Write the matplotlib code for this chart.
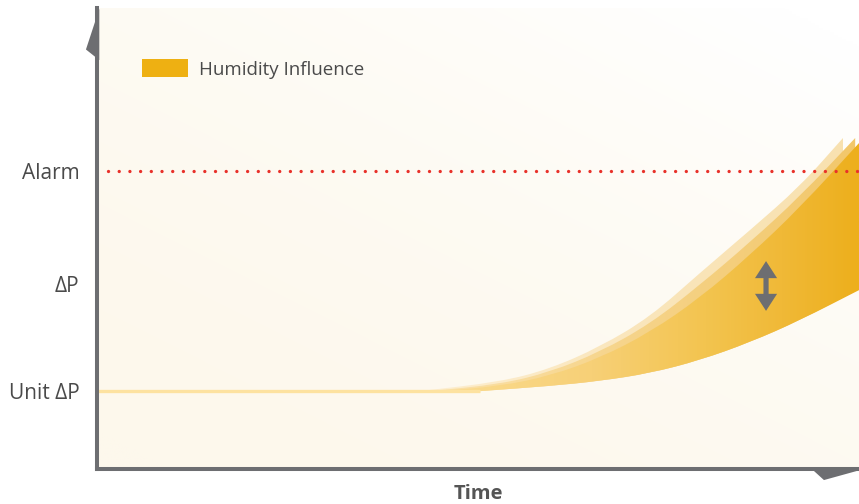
import numpy as np
import matplotlib
matplotlib.use('Agg')
from matplotlib import pyplot as plt
from matplotlib.patches import Polygon, Patch, PathPatch
from matplotlib.path import Path
from matplotlib.colors import to_rgb

plt.rcParams['font.family'] = ['Open Sans', 'DejaVu Sans']

# levels on the pressure axis (arbitrary units, 0-100)
unit_dp = 16.9
dp_level = 40.1
alarm = 64.6
tick_labels = ['Unit ΔP', 'ΔP', 'Alarm']

# band edges (time 0-100, pressure 0-100)
lower_x = [0, 50.3, 59.4, 66.0, 72.6, 79.1, 85.7, 92.3, 100]
lower_y = [16.9, 16.9, 18.0, 19.1, 20.8, 23.6, 27.5, 32.3, 38.8]

dark_x = [45.0, 52.9, 59.4, 66.0, 72.6, 79.1, 85.7, 92.3, 100]
dark_y = [16.9, 18.0, 20.2, 24.1, 29.7, 37.1, 46.4, 56.8, 70.7]

mid_x = [43.7, 52.9, 59.4, 66.0, 72.6, 79.1, 85.7, 92.3, 99.5]
mid_y = [16.9, 18.4, 21.0, 25.4, 31.5, 39.9, 49.2, 59.2, 71.8]

light_x = [42.4, 52.9, 59.4, 66.0, 72.6, 79.1, 85.7, 92.3, 97.9]
light_y = [16.9, 18.9, 21.7, 26.5, 33.0, 42.5, 51.8, 61.4, 71.8]

# double arrow showing the humidity spread
arrow_x = 87.8
arrow_y = [34.3, 45.1]

gray = '#6D6E71'
text_col = '#4A4A4A'

fig = plt.figure(figsize=(8.59, 5.04), dpi=100)
ax = fig.add_axes([97 / 859, 35 / 504, 762 / 859, 461 / 504])
ax.set_xlim(0, 100)
ax.set_ylim(0, 100)


def ramp(stops, n=400):
    pos = np.array([s[0] for s in stops])
    cols = np.array([to_rgb(s[1]) for s in stops])
    t = np.linspace(0, 1, n)
    return np.stack([np.interp(t, pos, cols[:, k]) for k in range(3)], axis=-1)


def smooth_edge(xs, ys, first):
    # quadratic bezier through the midpoints, read points act as control points
    p = list(zip(xs, ys))
    verts = [p[0]]
    codes = [Path.MOVETO if first else Path.LINETO]
    verts.append(((p[0][0] + p[1][0]) / 2, (p[0][1] + p[1][1]) / 2))
    codes.append(Path.LINETO)
    for i in range(1, len(p) - 1):
        mid = ((p[i][0] + p[i + 1][0]) / 2, (p[i][1] + p[i + 1][1]) / 2)
        verts += [p[i], mid]
        codes += [Path.CURVE3, Path.CURVE3]
    verts.append(p[-1])
    codes.append(Path.LINETO)
    return verts, codes


# background: cream bottom-left fading to white top-right
gx, gy = np.meshgrid(np.linspace(0, 1, 200), np.linspace(0, 1, 200))
w = np.clip(0.5 * gx + 0.6 * gy - 0.05, 0, 1) ** 1.6
c0 = np.array(to_rgb('#FDF8EC'))
c1 = np.array(to_rgb('#FFFFFF'))
bg = c0 * (1 - w[..., None]) + c1 * w[..., None]
ax.imshow(bg, extent=[0, 100, 0, 100], origin='lower', aspect='auto',
          interpolation='bilinear', zorder=0)


def band(ux, uy, bx, by, stops, z):
    v1, c1_ = smooth_edge(ux, uy, True)
    v2, c2_ = smooth_edge(list(bx)[::-1], list(by)[::-1], False)
    verts = v1 + v2 + [v1[0]]
    codes = c1_ + c2_ + [Path.CLOSEPOLY]
    patch = PathPatch(Path(verts, codes), facecolor='none', edgecolor='none', zorder=z)
    ax.add_patch(patch)
    img = ax.imshow(ramp(stops)[None, :, :], extent=[0, 100, 0, 100], origin='lower',
                    aspect='auto', interpolation='bilinear', zorder=z)
    img.set_clip_path(patch)


band(light_x, light_y, lower_x[1:-1] + [97.9], lower_y[1:-1] + [37.5],
     [(0, '#FFF4DC'), (0.45, '#FDEECF'), (0.7, '#FAE6BC'), (1, '#F8E1AF')], 2)
band(mid_x, mid_y, lower_x[1:-1] + [99.5], lower_y[1:-1] + [38.6],
     [(0, '#FEEDC6'), (0.45, '#FBE1A8'), (0.7, '#F6D48A'), (1, '#F2C76A')], 3)
band(dark_x, dark_y, lower_x[1:], lower_y[1:],
     [(0, '#FDE6AE'), (0.5, '#FAD98A'), (0.65, '#F7D077'), (0.8, '#F3C44F'),
      (0.9, '#F0B937'), (1, '#EDAF1C')], 4)

# flat part at unit ΔP
ax.plot(lower_x[:2], [unit_dp, unit_dp], color='#FDE2A0', lw=2.4, zorder=4,
        solid_capstyle='butt')

# alarm level
ax.plot([1.4, 100], [alarm, alarm], color='#E8312A', lw=2.4,
        ls=(0, (0.01, 3.2)), dash_capstyle='round', zorder=5)

# two arrows from the middle outwards -> double headed arrow
mid_arrow = (arrow_y[0] + arrow_y[1]) / 2
half = (arrow_y[1] - arrow_y[0]) / 2
for d in (half, -half):
    ax.arrow(arrow_x, mid_arrow, 0, d, width=0.68, head_width=2.9, head_length=3.7,
             length_includes_head=True, facecolor=gray, edgecolor='none', zorder=6)

# axes
for s in ['top', 'right']:
    ax.spines[s].set_visible(False)
for s in ['left', 'bottom']:
    ax.spines[s].set_color(gray)
    ax.spines[s].set_linewidth(2.9)
    ax.spines[s].set_zorder(7)

ax.add_patch(Polygon([[0.3, 99.8], [-1.45, 91.0], [0.3, 88.7]], closed=True,
                     facecolor=gray, edgecolor='none', clip_on=False, zorder=8))
ax.add_patch(Polygon([[93.8, 0], [95.4, -2.4], [100, -0.3], [100, 0]], closed=True,
                     facecolor=gray, edgecolor='none', clip_on=False, zorder=8))

ax.set_xticks([])
ax.set_yticks([unit_dp, dp_level, alarm])
ax.set_yticklabels(tick_labels, fontsize=15, color=text_col)
ax.tick_params(axis='y', length=0, pad=12.5)
ax.set_xlabel('Time', fontsize=14.5, fontweight='bold', color='#555555', labelpad=11)

ax.legend(handles=[Patch(facecolor='#EEB012', edgecolor='none')],
          labels=['Humidity Influence'], loc='upper left',
          bbox_to_anchor=(0.0495, 0.905), frameon=False, fontsize=13.5,
          handlelength=2.45, handleheight=1.1, handletextpad=0.6,
          labelcolor=text_col, borderaxespad=0)

fig.savefig('out.png', dpi=100)
